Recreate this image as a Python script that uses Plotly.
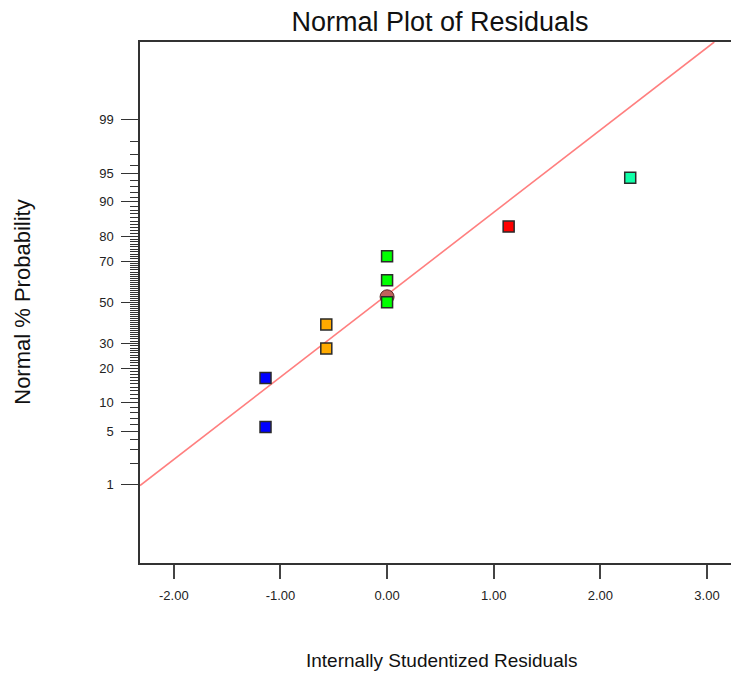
import plotly.graph_objects as go
from statistics import NormalDist

nd = NormalDist()

def probit(p):
    return nd.inv_cdf(p / 100.0)

# Residual points (internally studentized residual, normal % probability)
resid_x = [-1.14, -1.14, -0.57, -0.57, 0.00, 0.00, 0.00, 1.14, 2.28]
resid_p = [5.6, 16.7, 27.8, 38.9, 50.0, 61.1, 72.2, 83.3, 94.4]
resid_colors = ["#0000FF", "#0000FF", "#FFAA00", "#FFAA00", "#00FF00",
                "#00FF00", "#00FF00", "#FF0000", "#10FFA8"]

# Highlighted (partly hidden) marker
mark_x = [0.00]
mark_p = [52.8]

# Reference line endpoints
line_x = [-2.317, 3.068]
line_p = [0.97, 99.955]

# Axis ticks
y_major = [1, 5, 10, 20, 30, 50, 70, 80, 90, 95, 99]
y_minor = [p for p in range(2, 99) if p not in y_major]
x_ticks = [-2, -1, 0, 1, 2, 3]
x_ticktext = ["-2.00", "-1.00", "0.00", "1.00", "2.00", "3.00"]

textfont = "Liberation Sans, Arial, sans-serif"
tickfont = dict(family=textfont, size=13, color="#222")

# plot area runs past the right edge of the 731px window (as in the reference)
W, H = 740, 677
plot_top, plot_bottom, plot_left = 42, 563.5, 140
plot_w = W - plot_left
plot_h = plot_bottom - plot_top

fig = go.Figure()

fig.add_trace(go.Scatter(
    x=line_x, y=[probit(p) for p in line_p], mode="lines",
    line=dict(color="#FF7F7F", width=1.6), hoverinfo="skip", showlegend=False))

fig.add_trace(go.Scatter(
    x=mark_x, y=[probit(p) for p in mark_p], mode="markers",
    marker=dict(symbol="circle", size=14, color="#C0605C",
                line=dict(color="#5a2a28", width=1)),
    showlegend=False))

fig.add_trace(go.Scatter(
    x=resid_x, y=[probit(p) for p in resid_p], mode="markers",
    marker=dict(symbol="square", size=11, color=resid_colors,
                line=dict(color="#2a2a2a", width=1.5)),
    showlegend=False))

fig.update_layout(
    width=W, height=H,
    margin=dict(l=plot_left, r=0, t=plot_top, b=H - plot_bottom),
    paper_bgcolor="white", plot_bgcolor="white",
    title=dict(text="Normal Plot of Residuals", x=(440 - plot_left) / plot_w,
               xref="paper", xanchor="center", y=1 - 22 / H,
               yanchor="middle",
               font=dict(family=textfont, size=27, color="#111")),
    xaxis=dict(range=[-2.317, -2.317 + plot_w / 106.64], tickmode="array",
               tickvals=x_ticks, ticktext=x_ticktext, ticks="outside",
               ticklen=14, tickcolor="#444", tickwidth=1.5, showline=True,
               linecolor="#333", linewidth=1.5, mirror=True,
               showgrid=False, zeroline=False, tickfont=tickfont,
               ticklabelstandoff=6),
    yaxis=dict(range=[-3.325, 3.32], tickmode="array",
               tickvals=[probit(p) for p in y_major],
               ticktext=[str(p) for p in y_major], ticks="outside",
               ticklen=17, tickcolor="#333", tickwidth=1,
               showline=True, linecolor="#333", linewidth=1.5, mirror=False,
               showgrid=False, zeroline=False,
               tickfont=dict(family=textfont, size=13, color="#222"),
               ticklabelstandoff=5,
               minor=dict(tickmode="array",
                          tickvals=[probit(p) for p in y_minor],
                          ticks="outside", ticklen=8, tickcolor="#333",
                          tickwidth=1, showgrid=False)),
    annotations=[
        dict(text="Internally Studentized Residuals", xref="paper",
             yref="paper", x=(441 - plot_left) / plot_w,
             y=(plot_bottom - 661) / plot_h,
             xanchor="center", yanchor="middle", showarrow=False,
             font=dict(family=textfont, size=19, color="#111")),
        dict(text="Normal % Probability", xref="paper", yref="paper",
             x=(23 - plot_left) / plot_w, y=(plot_bottom - 303) / plot_h,
             textangle=-90, xanchor="center", yanchor="middle",
             showarrow=False,
             font=dict(family=textfont, size=22, color="#111")),
    ],
)

fig.write_html(
    "out.html",
    config={"displayModeBar": False},
    post_script="document.body.style.margin='0';document.body.style.overflow='hidden';",
)
